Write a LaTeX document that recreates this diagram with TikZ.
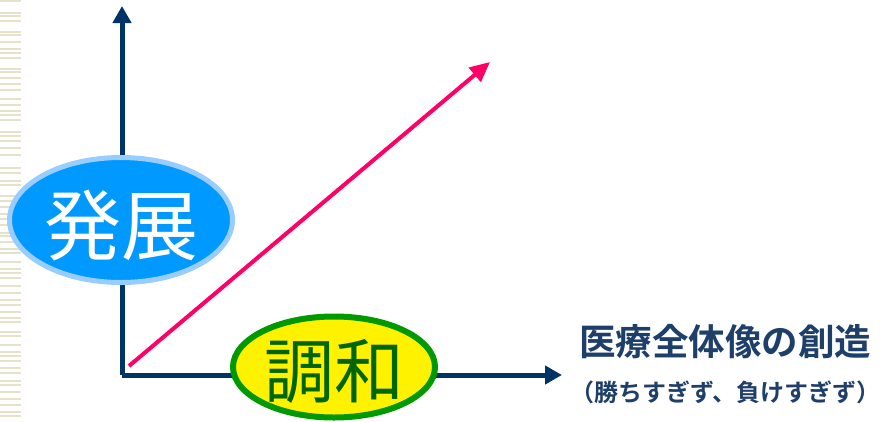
\documentclass[tikz,border=0pt]{standalone}
\usepackage{fontspec}
\newfontfamily\jp{Noto Sans CJK JP}
\newfontfamily\jpb{Noto Sans CJK JP Bold}
\usetikzlibrary{shapes.geometric,arrows.meta}
\definecolor{navy}{HTML}{003366}
\definecolor{pinkred}{HTML}{FF0066}
\definecolor{bluefill}{HTML}{0099FF}
\definecolor{blueedge}{HTML}{99CCFF}
\definecolor{greenedge}{HTML}{009900}
\definecolor{darkgreen}{HTML}{006600}
\definecolor{stripe}{HTML}{E6E2CA}
\definecolor{textnavy}{HTML}{1F3F6B}
\tikzset{
  axis/.style={draw=navy,line width=5pt,-{Triangle[width=18pt,length=17pt]}},
  growth/.style={draw=pinkred,line width=4pt,-{Triangle[width=18pt,length=20pt]}},
  bubble/.style={ellipse,inner sep=0pt},
  stripeline/.style={draw=stripe,line width=1.6pt}
}
\begin{document}
\begin{tikzpicture}[x=1pt,y=-1pt]
\useasboundingbox (0,0) rectangle (880,421);
% decorative left stripes
\foreach \yy in {1,13,16,21,32,35,42,49,53,58,69,72,78,84,90,99,105,111,115,120,132,136,141,148,155,168,173,181,185,196,201,207,214,219,225,233,236,242,249,253,262,269,273,278,286,293,300,305,312,318,322,332,336,345,352,356,361,368,373,381,385,392,399,405,412,416}
  \draw[stripeline] (0,\yy) -- (21,\yy);
% axes
\coordinate (origin) at (122,375);
\coordinate (ytop) at (122,6);
\coordinate (xend) at (562,375);
\draw[axis] (origin) -- (ytop);
\draw[axis] (origin) -- (xend);
% growth arrow
\coordinate (gstart) at (129,366);
\coordinate (gend) at (490,62);
\draw[growth] (gstart) -- (gend);
% bubbles
\node[bubble,fill=bluefill,draw=blueedge,line width=5pt,minimum width=223pt,minimum height=125pt] (hatten) at (121,220) {};
\node[inner sep=0pt,text=white,font=\jp\fontsize{77}{77}\selectfont] (hattentext) at ([yshift=-6pt]hatten.center) {発展};
\node[bubble,fill=yellow,draw=greenedge,line width=6pt,minimum width=202pt,minimum height=101pt] (chowa) at (334,367) {};
\node[inner sep=0pt,text=darkgreen,font=\jp\fontsize{70}{70}\selectfont] (chowatext) at ([yshift=-4pt]chowa.center) {調和};
% labels
\node[anchor=west,inner sep=0pt,text=textnavy,font=\jpb\fontsize{36.5}{36.5}\selectfont] (title) at (579,342) {医療全体像の創造};
\node[anchor=west,inner sep=0pt,text=textnavy,font=\jpb\fontsize{24}{24}\selectfont] (sub) at (570,392) {（勝ちすぎず、負けすぎず）};
\end{tikzpicture}
\end{document}
